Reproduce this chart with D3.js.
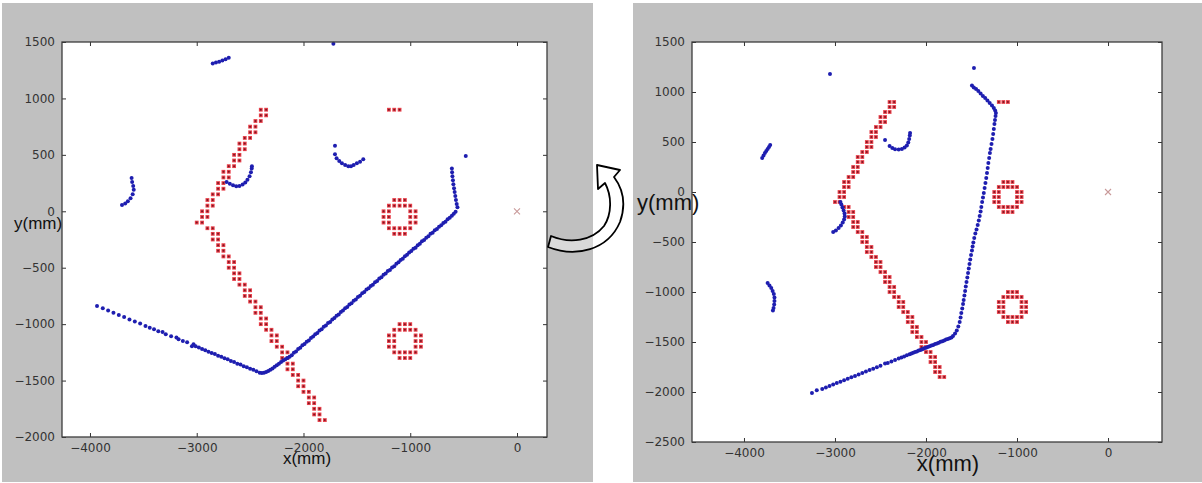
<!DOCTYPE html>
<html>
<head>
<meta charset="utf-8">
<script src="https://cdn.jsdelivr.net/npm/d3@7"></script>
<style>
	body { margin: 0; background: #fff; }
	svg { display: block; }
	.tick text { font-family: "DejaVu Sans", sans-serif; font-size: 12px; fill: #333; }
	.tick line { stroke: #333; stroke-width: 1; }
	.axis-label { font-family: "Liberation Sans", Arial, sans-serif; fill: #111; }
</style>
</head>
<body>
<svg id="scan-plot" width="1202" height="483" viewBox="0 0 1202 483"></svg>
<script>

// ---- data (mm) ----
const xTicks = [-4000, -3000, -2000, -1000, 0];
const yTicksLeft = [1500, 1000, 500, 0, -500, -1000, -1500, -2000];
const yTicksRight = [1500, 1000, 500, 0, -500, -1000, -1500, -2000, -2500];

const robotPose = [0, 0];

// occupancy map (same in both panels)
const redWallUpper = [
	[-2400,900],[-2350,900],[-2400,850],[-2350,850],[-2450,800],[-2400,800],
	[-2500,750],[-2450,750],[-2500,700],[-2450,700],[-2550,650],[-2500,650],
	[-2600,600],[-2550,600],[-2600,550],[-2550,550],[-2650,500],[-2600,500],
	[-2650,450],[-2600,450],[-2700,400],[-2650,400],[-2750,350],[-2700,350],
	[-2750,300],[-2700,300],[-2800,250],[-2750,250],[-2800,200],[-2750,200],
	[-2850,150],[-2800,150],[-2900,100],[-2850,100],[-2900,50],[-2850,50],
	[-2950,0],[-2900,0],[-2950,-50],[-2900,-50],[-3000,-100],[-2950,-100]
];
const redWallLower = [
	[-2900,-150],[-2850,-150],[-2850,-200],[-2800,-200],[-2850,-250],[-2800,-250],
	[-2800,-300],[-2750,-300],[-2800,-350],[-2750,-350],[-2750,-400],[-2700,-400],
	[-2700,-450],[-2650,-450],[-2700,-500],[-2650,-500],[-2650,-550],[-2600,-550],
	[-2650,-600],[-2600,-600],[-2600,-650],[-2550,-650],[-2550,-700],[-2500,-700],
	[-2550,-750],[-2500,-750],[-2500,-800],[-2450,-800],[-2450,-850],[-2400,-850],
	[-2450,-900],[-2400,-900],[-2400,-950],[-2350,-950],[-2400,-1000],[-2350,-1000],
	[-2350,-1050],[-2300,-1050],[-2300,-1100],[-2250,-1100],[-2300,-1150],[-2250,-1150],
	[-2250,-1200],[-2200,-1200],[-2200,-1250],[-2150,-1250],[-2200,-1300],[-2150,-1300],
	[-2150,-1350],[-2100,-1350],[-2150,-1400],[-2100,-1400],[-2100,-1450],[-2050,-1450],
	[-2050,-1500],[-2000,-1500],[-2050,-1550],[-2000,-1550],[-2000,-1600],[-1950,-1600],
	[-1950,-1650],[-1900,-1650],[-1950,-1700],[-1900,-1700],[-1900,-1750],[-1850,-1750],
	[-1900,-1800],[-1850,-1800],[-1850,-1850],[-1800,-1850]
];
const redBar = [[-1200,900],[-1150,900],[-1100,900]];
const redRingA = [
	[-1100,50],[-1100,-150],[-1000,-50],[-1200,-50],
	[-1050,50],[-1150,50],[-1050,-150],[-1150,-150],
	[-1000,0],[-1000,-100],[-1200,0],[-1200,-100],
	[-1000,50],[-1200,50],[-1000,-150],[-1200,-150],
	[-1100,100],[-1100,-200],[-950,-50],[-1250,-50],
	[-1050,100],[-1150,100],[-1050,-200],[-1150,-200],
	[-950,0],[-950,-100],[-1250,0],[-1250,-100]
];
const redRingB = [
	[-1050,-1050],[-1050,-1250],[-950,-1150],[-1150,-1150],
	[-1000,-1050],[-1100,-1050],[-1000,-1250],[-1100,-1250],
	[-950,-1100],[-950,-1200],[-1150,-1100],[-1150,-1200],
	[-950,-1050],[-1150,-1050],[-950,-1250],[-1150,-1250],
	[-1050,-1000],[-1050,-1300],[-900,-1150],[-1200,-1150],
	[-1000,-1000],[-1100,-1000],[-1000,-1300],[-1100,-1300],
	[-900,-1100],[-900,-1200],[-1200,-1100],[-1200,-1200]
];

// laser scan before correction (left)
const scanBefore = [
	// top arc
	[-2850,1310],[-2820,1318],[-2790,1326],[-2760,1336],[-2730,1348],[-2700,1360],
	[-1720,1485],
	// left arc
	[-3700,55],[-3670,70],[-3645,90],[-3620,115],[-3600,150],[-3590,190],[-3595,225],[-3605,260],[-3610,295],
	// arc near wall
	[-2720,260],[-2690,245],[-2660,230],[-2630,222],[-2600,225],[-2570,238],[-2545,255],
	[-2525,280],[-2505,310],[-2492,345],[-2485,380],[-2483,400],
	// arc at top middle
	[-1705,580],
	[-1705,505],[-1690,470],[-1665,445],[-1640,425],[-1610,410],[-1580,400],[-1555,398],
	[-1530,410],[-1500,425],[-1470,440],[-1440,460],
	[-480,490],
	// short vertical wall
	[-610,380],[-608,345],[-605,310],[-600,275],[-596,240],[-590,205],[-584,170],
	[-578,135],[-572,100],[-565,65],[-558,35],
	// long diagonal wall
	[-575,-5],[-592,-22],[-610,-39],[-630,-58],[-650,-70],[-670,-92],[-690,-103],[-710,-124],
	[-730,-136],[-750,-158],[-770,-168],[-790,-190],[-810,-200],[-830,-222],[-850,-234],
	[-870,-255],[-890,-266],[-910,-288],[-930,-300],[-950,-322],[-970,-333],[-990,-352],
	[-1010,-366],[-1030,-386],[-1050,-398],[-1070,-420],[-1090,-432],[-1110,-452],[-1130,-465],
	[-1150,-486],[-1170,-498],[-1190,-520],[-1210,-530],[-1230,-552],[-1250,-563],[-1270,-585],
	[-1290,-596],[-1310,-617],[-1330,-629],[-1350,-650],[-1370,-661],[-1390,-683],[-1410,-694],
	[-1430,-716],[-1450,-727],[-1470,-749],[-1490,-760],[-1510,-781],[-1530,-793],[-1550,-815],
	[-1570,-826],[-1590,-848],[-1610,-859],[-1630,-880],[-1650,-892],[-1670,-914],[-1690,-925],
	[-1710,-946],[-1730,-958],[-1750,-980],[-1770,-990],[-1790,-1012],[-1810,-1023],[-1830,-1045],
	[-1850,-1056],[-1870,-1078],[-1890,-1089],[-1910,-1110],[-1930,-1122],[-1950,-1144],
	[-1970,-1155],[-1990,-1176],[-2010,-1188],[-2030,-1210],[-2050,-1221],[-2070,-1242],
	[-2090,-1254],[-2110,-1276],[-2130,-1288],
	// corner
	[-2150,-1300],[-2170,-1312],[-2190,-1322],[-2210,-1336],[-2230,-1350],[-2250,-1364],
	[-2270,-1378],[-2290,-1392],[-2310,-1404],[-2330,-1415],[-2350,-1424],[-2370,-1430],
	[-2390,-1434],[-2410,-1430],
	// lower left wall
	[-2440,-1418],[-2470,-1405],[-2500,-1396],[-2530,-1382],[-2560,-1372],[-2590,-1358],
	[-2620,-1350],[-2650,-1336],[-2680,-1326],[-2710,-1312],[-2740,-1302],[-2770,-1290],
	[-2800,-1280],[-2830,-1265],[-2860,-1256],[-2890,-1244],[-2920,-1232],[-2950,-1220],
	[-2980,-1208],[-3010,-1196],[-3030,-1178],[-3045,-1195],[-3090,-1160],[-3130,-1150],
	[-3170,-1134],[-3190,-1118],[-3240,-1108],[-3290,-1090],[-3320,-1070],[-3360,-1064],
	[-3400,-1045],[-3440,-1032],[-3480,-1016],[-3530,-995],[-3580,-976],[-3630,-958],
	[-3680,-936],[-3730,-918],[-3780,-898],[-3830,-880],[-3880,-860],[-3934,-839]
];

// laser scan after correction (right)
const scanAfter = [
	[-3055,1180],
	// left arc
	[-3800,340],[-3785,365],[-3770,390],[-3755,410],[-3740,430],[-3725,450],[-3712,470],
	// arc top middle
	[-2450,520],
	[-2400,460],[-2370,440],[-2340,428],[-2300,425],[-2265,430],[-2235,445],[-2210,465],
	[-2195,495],[-2185,530],[-2178,565],[-2175,590],
	// arc near wall
	[-3020,-400],[-2990,-385],[-2960,-360],[-2935,-335],[-2915,-305],[-2900,-275],[-2893,-245],
	[-2895,-215],[-2905,-185],[-2918,-155],[-2930,-125],[-2940,-100],
	// lower left arc
	[-3740,-910],[-3720,-935],[-3700,-960],[-3685,-990],[-3672,-1020],[-3665,-1055],
	[-3665,-1090],[-3668,-1125],[-3675,-1160],[-3682,-1185],
	// right wall, top part
	[-1473,1240],
	[-1495,1065],[-1475,1045],[-1450,1030],[-1425,1010],[-1400,985],[-1375,960],[-1350,940],
	[-1325,915],[-1300,890],[-1275,865],[-1255,840],[-1240,815],[-1232,790],
	// right wall, long steep part
	[-1236,760],[-1242,720],[-1248,680],[-1255,630],[-1262,580],[-1270,530],[-1280,480],
	[-1290,430],[-1298,390],[-1306,340],[-1315,290],[-1322,240],[-1330,190],[-1338,140],
	[-1347,90],[-1356,40],[-1365,-10],[-1374,-55],[-1383,-100],[-1392,-150],[-1400,-195],
	[-1410,-240],[-1420,-285],[-1432,-330],[-1445,-375],[-1458,-415],[-1470,-460],
	[-1480,-505],[-1488,-545],[-1495,-585],[-1505,-630],[-1514,-675],[-1522,-720],
	[-1530,-765],[-1538,-810],[-1546,-855],[-1555,-900],[-1563,-945],[-1570,-990],
	[-1578,-1035],[-1586,-1080],[-1593,-1120],[-1602,-1165],[-1612,-1210],[-1620,-1255],
	[-1630,-1300],[-1645,-1345],[-1662,-1385],[-1681,-1415],[-1703,-1440],
	// bottom wall
	[-1720,-1455],[-1740,-1462],[-1760,-1471],[-1780,-1476],[-1800,-1485],[-1820,-1492],
	[-1840,-1498],[-1860,-1507],[-1880,-1514],[-1900,-1520],[-1920,-1530],[-1940,-1536],
	[-1960,-1542],[-1980,-1551],[-2000,-1557],[-2020,-1563],[-2040,-1572],[-2060,-1579],
	[-2080,-1585],[-2100,-1594],[-2120,-1601],[-2140,-1607],[-2160,-1616],[-2180,-1622],
	[-2210,-1633],[-2240,-1644],[-2270,-1655],[-2300,-1666],[-2340,-1680],[-2380,-1694],
	[-2420,-1709],[-2450,-1715],[-2500,-1738],[-2540,-1752],[-2580,-1767],[-2620,-1781],
	[-2660,-1795],[-2700,-1810],[-2740,-1824],[-2780,-1839],[-2820,-1853],[-2860,-1868],
	[-2900,-1882],[-2940,-1897],[-2980,-1911],[-3020,-1926],[-3060,-1940],[-3100,-1955],
	[-3140,-1969],[-3200,-1982],[-3253,-2010]
];

const redMap = redWallUpper.concat(redWallLower, redBar, redRingA, redRingB);


class ScanPlot {

	constructor(svg, opts) {
		this.svg = svg;
		const p = opts.plot;   // [left, top, right, bottom] in px

		// gray figure background
		svg.append("rect")
			.attr("x", opts.bg[0]).attr("y", opts.bg[1])
			.attr("width", opts.bg[2] - opts.bg[0])
			.attr("height", opts.bg[3] - opts.bg[1])
			.style("fill", "#c0c0c0");

		const x = d3.scaleLinear().domain(opts.xDomain).range([p[0], p[2]]);
		const y = d3.scaleLinear().domain(opts.yDomain).range([p[3], p[1]]);

		svg.append("rect")
			.attr("x", p[0]).attr("y", p[1])
			.attr("width", p[2] - p[0]).attr("height", p[3] - p[1])
			.style("fill", "white");

		const g = svg.append("g");

		// red occupancy cells
		const cells = g.append("g");
		cells.selectAll("rect")
			.data(redMap)
			.enter().append("rect")
				.attr("x", d => x(d[0]) - 1.9)
				.attr("y", d => y(d[1]) - 1.9)
				.attr("width", 3.8).attr("height", 3.8)
				.style("fill", "#e8414b");
		cells.selectAll("circle")
			.data(redMap)
			.enter().append("circle")
				.attr("cx", d => x(d[0]))
				.attr("cy", d => y(d[1]))
				.attr("r", 1)
				.style("fill", "#7d1522");

		// robot position
		const rx = x(robotPose[0]), ry = y(robotPose[1]);
		g.append("path")
			.attr("d", `M${rx-3},${ry-3}L${rx+3},${ry+3}M${rx-3},${ry+3}L${rx+3},${ry-3}`)
			.style("stroke", "#c99a9a").style("stroke-width", 1.1);

		// scan points
		g.append("g").selectAll("circle")
			.data(opts.scan)
			.enter().append("circle")
				.attr("cx", d => x(d[0]))
				.attr("cy", d => y(d[1]))
				.attr("r", 2)
				.style("fill", "#1e1eb0");

		// axes, ticks pointing inwards like matplotlib classic
		const fmt = d3.format("d");
		svg.append("g")
			.attr("transform", `translate(0,${p[3]})`)
			.call(d3.axisBottom(x).tickValues(xTicks).tickFormat(fmt)
				.tickSizeInner(-4).tickSizeOuter(0).tickPadding(6))
			.call(a => a.select(".domain").remove());
		svg.append("g")
			.attr("transform", `translate(${p[0]},0)`)
			.call(d3.axisLeft(y).tickValues(opts.yTicks).tickFormat(fmt)
				.tickSizeInner(-4).tickSizeOuter(0).tickPadding(7))
			.call(a => a.select(".domain").remove());
		svg.append("g")
			.attr("transform", `translate(0,${p[1]})`)
			.call(d3.axisTop(x).tickValues(xTicks).tickFormat("")
				.tickSizeInner(-4).tickSizeOuter(0))
			.call(a => a.select(".domain").remove());
		svg.append("g")
			.attr("transform", `translate(${p[2]},0)`)
			.call(d3.axisRight(y).tickValues(opts.yTicks).tickFormat("")
				.tickSizeInner(-4).tickSizeOuter(0))
			.call(a => a.select(".domain").remove());

		// frame
		svg.append("rect")
			.attr("x", p[0]).attr("y", p[1])
			.attr("width", p[2] - p[0]).attr("height", p[3] - p[1])
			.style("fill", "none").style("stroke", "#3c3c3c").style("stroke-width", 1.3);

		// axis labels (they overlap the tick labels in the original too)
		svg.append("text")
			.attr("class", "axis-label")
			.attr("x", opts.yLabel[0]).attr("y", opts.yLabel[1])
			.style("font-size", opts.labelSize + "px")
			.text("y(mm)");
		svg.append("text")
			.attr("class", "axis-label")
			.attr("x", opts.xLabel[0]).attr("y", opts.xLabel[1])
			.attr("text-anchor", "middle")
			.style("font-size", opts.labelSize + "px")
			.text("x(mm)");
	}
}

function drawArrow(svg) {
	// curved "rotate" arrow between the two panels
	const p = d3.path();
	p.moveTo(548, 247);
	p.bezierCurveTo(576, 258, 608, 250, 620, 222);
	p.bezierCurveTo(626, 205, 623, 189, 614, 177);
	p.lineTo(620, 170);
	p.lineTo(597, 165);
	p.lineTo(598, 189);
	p.lineTo(605, 183);
	p.bezierCurveTo(612, 196, 612, 214, 604, 226);
	p.bezierCurveTo(592, 241, 570, 244, 551, 236);
	p.closePath();
	svg.append("path")
		.attr("d", p.toString())
		.style("fill", "white").style("fill-opacity", 0.4)
		.style("stroke", "black").style("stroke-width", 1.8)
		.style("stroke-linejoin", "round");
}

function whenDocumentLoaded(action) {
	if (document.readyState === "loading") {
		document.addEventListener("DOMContentLoaded", action);
	} else {
		action();
	}
}

whenDocumentLoaded(() => {
	const svg = d3.select("#scan-plot");

	new ScanPlot(svg, {
		bg: [2, 3, 593, 482],
		plot: [62, 42, 547, 437],
		xDomain: [-4262, 281],
		yDomain: [-2000, 1500],
		yTicks: yTicksLeft,
		scan: scanBefore,
		labelSize: 17,
		yLabel: [14, 229],
		xLabel: [307, 464]
	});

	new ScanPlot(svg, {
		bg: [633, 3, 1202, 482],
		plot: [692, 42, 1162, 442],
		xDomain: [-4571, 593],
		yDomain: [-2500, 1500],
		yTicks: yTicksRight,
		scan: scanAfter,
		labelSize: 22,
		yLabel: [637, 210],
		xLabel: [948, 471]
	});

	drawArrow(svg);
});
</script>
</body>
</html>
